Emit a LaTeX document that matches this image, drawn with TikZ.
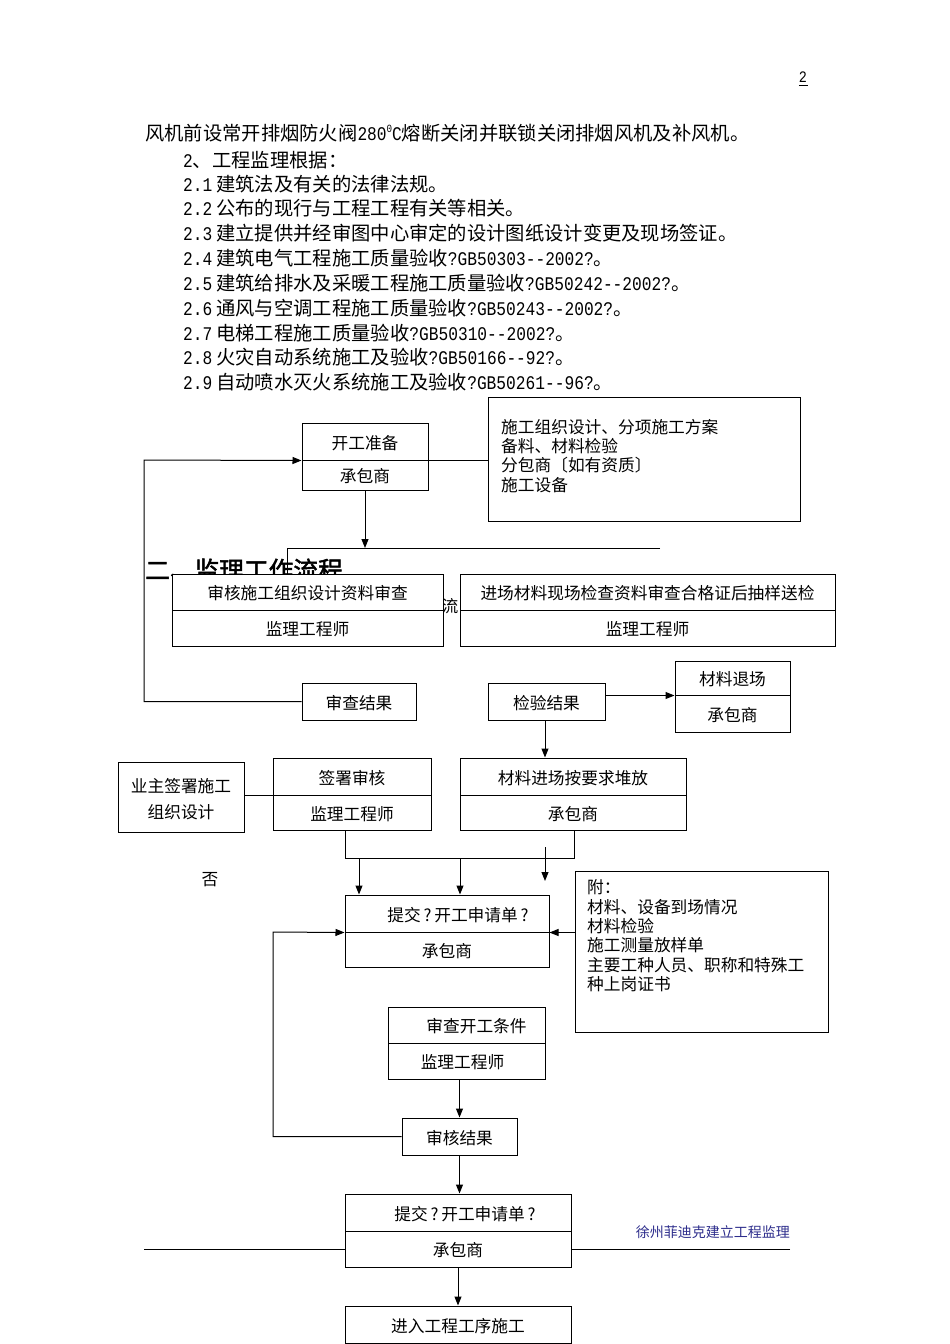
\documentclass[tikz,border=0pt]{standalone}
\usepackage{fontspec}
\newfontfamily\cjk{Noto Sans CJK SC}
\newfontfamily\cjkb{Noto Sans CJK SC}[FakeBold=2]
\newfontfamily\latm{Liberation Mono}[FakeStretch=0.84]
\newcommand\latseg[1]{{\latm\fontsize{19.3}{24}\selectfont #1}}
\usetikzlibrary{arrows.meta}
\tikzset{
  bx/.style={draw, line width=1pt, fill=white, inner sep=0pt, text height=15.5pt, text depth=0pt, font=\cjk\fontsize{16.7}{20}\selectfont},
  frame/.style={draw, line width=1pt, fill=white, inner sep=0pt},
  pos/.style n args={4}{minimum width={(#3-#1)*1pt}, minimum height={(#4-#2)*1pt}, at={({(#1+#3)/2},{(#2+#4)/2})}},
  tx/.style={inner sep=0pt, anchor=west, font=\cjk\fontsize{16.7}{20}\selectfont},
  body/.style={inner sep=0pt, anchor=west, font=\cjk\fontsize{19.3}{24}\selectfont},
  arr/.style={line width=1pt, -{Triangle[length=9pt,width=7pt]}},
  ln/.style={line width=1pt},
}
\begin{document}
\begin{tikzpicture}[x=1pt,y=-1pt]
\useasboundingbox[fill=white] (0,0) rectangle (950,1344);
% page number
\node[inner sep=0pt, font=\latm\fontsize{16}{18}\selectfont] (pg) at (803,77) {2};
\draw[line width=0.8pt] (pg.south west) ++(0,3) -- ++(9,0);
% body text
\node[body] (t0) at (145,133) {风机前设常开排烟防火阀\latseg{280}\raisebox{8pt}{\latm\fontsize{11}{11}\selectfont 0}\latseg{C}熔断关闭并联锁关闭排烟风机及补风机。};
\node[body] (t1) at (183,160) {\latseg{2}、工程监理根据：};
\node[body] (t2) at (183,184) {\latseg{2.1}\hspace{4pt}建筑法及有关的法律法规。};
\node[body] (t3) at (183,208.5) {\latseg{2.2}\hspace{4pt}公布的现行与工程工程有关等相关。};
\node[body] (t4) at (183,233) {\latseg{2.3}\hspace{4pt}建立提供并经审图中心审定的设计图纸设计变更及现场签证。};
\node[body] (t5) at (183,258) {\latseg{2.4}\hspace{4pt}建筑电气工程施工质量验收\latseg{?GB50303--2002?}。};
\node[body] (t6) at (183,283) {\latseg{2.5}\hspace{4pt}建筑给排水及采暖工程施工质量验收\latseg{?GB50242--2002?}。};
\node[body] (t7) at (183,308) {\latseg{2.6}\hspace{4pt}通风与空调工程施工质量验收\latseg{?GB50243--2002?}。};
\node[body] (t8) at (183,333) {\latseg{2.7}\hspace{4pt}电梯工程施工质量验收\latseg{?GB50310--2002?}。};
\node[body] (t9) at (183,357) {\latseg{2.8}\hspace{4pt}火灾自动系统施工及验收\latseg{?GB50166--92?}。};
\node[body] (t10) at (183,382) {\latseg{2.9}\hspace{4pt}自动喷水灭火系统施工及验收\latseg{?GB50261--96?}。};
% heading partly hidden
\node[inner sep=0pt, anchor=west, font=\cjkb\fontsize{24.7}{28}\selectfont] (hd) at (145,570) {二、监理工作流程};
\node[tx, anchor=center] (liu) at (450,606) {流};
% coordinates
\coordinate (hl) at (287,548);
\coordinate (hr) at (660,548);
\coordinate (lp) at (144,460);
\coordinate (lp2) at (273,932);
\coordinate (b1) at (345,858);
\coordinate (b2) at (574,858);
\coordinate (m1) at (359,858);
\coordinate (m2) at (460,858);
\coordinate (s1) at (545,847);
\coordinate (s2) at (545,881);
\coordinate (fl) at (144,1249);
\coordinate (fr) at (790,1249);
% lines drawn under boxes
\draw[ln] (hr) -- (hl) -- (287,574);
% boxes
\node[bx, pos={302}{423}{428}{460}] (kg1) {开工准备};
\node[bx, pos={302}{460}{428}{490}] (kg2) {承包商};
\node[frame, pos={488}{397}{800}{521}] (zl) {};
\node[tx] (zl1) at (501,427) {施工组织设计、分项施工方案};
\node[tx] (zl2) at (501,446) {备料、材料检验};
\node[tx] (zl3) at (501,465.5) {分包商〔如有资质〕};
\node[tx] (zl4) at (501,485) {施工设备};
\node[bx, pos={172}{574}{443}{610}] (sh1) {审核施工组织设计资料审查};
\node[bx, pos={172}{610}{443}{646}] (sh2) {监理工程师};
\node[bx, pos={460}{574}{835}{610}] (jc1) {进场材料现场检查资料审查合格证后抽样送检};
\node[bx, pos={460}{610}{835}{646}] (jc2) {监理工程师};
\node[bx, pos={302}{683}{416}{720}] (scjg) {审查结果};
\node[bx, pos={488}{683}{605}{720}] (jyjg) {检验结果};
\node[bx, pos={675}{661}{790}{695}] (tc1) {材料退场};
\node[bx, pos={675}{695}{790}{732}] (tc2) {承包商};
\node[frame, pos={118}{762}{244}{832}] (yz) {};
\node[tx, anchor=center] (yz1) at (181,786) {业主签署施工};
\node[tx, anchor=center] (yz2) at (181,812) {组织设计};
\node[bx, pos={273}{758}{431}{795}] (qs1) {签署审核};
\node[bx, pos={273}{795}{431}{830}] (qs2) {监理工程师};
\node[bx, pos={460}{758}{686}{795}] (cl1) {材料进场按要求堆放};
\node[bx, pos={460}{795}{686}{830}] (cl2) {承包商};
\node[tx, anchor=center] (fou) at (210,880) {否};
\node[bx, pos={345}{895}{549}{932}] (tj1) {\hspace*{22pt}提交\,?\,开工申请单\,?};
\node[bx, pos={345}{932}{549}{967}] (tj2) {承包商};
\node[frame, pos={575}{871}{828}{1032}] (fu) {};
\node[tx] (fu1) at (587,887) {附：};
\node[tx] (fu2) at (587,907) {材料、设备到场情况};
\node[tx] (fu3) at (587,926) {材料检验};
\node[tx] (fu4) at (587,945) {施工测量放样单};
\node[tx] (fu5) at (587,965) {主要工种人员、职称和特殊工};
\node[tx] (fu6) at (587,984) {种上岗证书};
\node[bx, pos={388}{1007}{545}{1043}] (ck1) {\hspace*{20pt}审查开工条件};
\node[bx, pos={388}{1043}{545}{1079}] (ck2) {\hspace*{-8pt}监理工程师};
\node[bx, pos={402}{1118}{517}{1155}] (shjg) {审核结果};
\node[bx, pos={345}{1194}{571}{1231}] (tk1) {\hspace*{14pt}提交\,?\,开工申请单\,?};
\node[bx, pos={345}{1231}{571}{1267}] (tk2) {承包商};
\node[bx, pos={345}{1306}{571}{1343}] (jr) {进入工程工序施工};
\node[inner sep=0pt, anchor=east, text={rgb,255:red,45;green,45;blue,140}, font=\cjk\fontsize{14}{16}\selectfont] (ft) at (790,1232) {徐州菲迪克建立工程监理};
% connectors
\draw[ln] (kg1.south east) -- (zl.west |- kg1.south east);
\draw[arr] (kg2.south) -- (kg2.south |- hl);
\draw[arr] (scjg.west) -| (lp) -- (kg1.south west);
\draw[arr] (jyjg.east |- tc1.south) -- (tc1.south west);
\draw[arr] (jyjg.south -| s1) -- (s1 |- cl1.north);
\draw[ln] (yz.east |- qs1.south west) -- (qs1.south west);
\draw[ln] (qs2.south -| b1) -- (b1) -- (b2) -- (cl2.south -| b2);
\draw[arr] (m1) -- (m1 |- tj1.north);
\draw[arr] (m2) -- (m2 |- tj1.north);
\draw[arr] (s1) -- (s2);
\draw[arr] (fu.west |- tj1.south) -- (tj1.south east);
\draw[arr] (shjg.west) -| (lp2) -- (tj1.south west);
\draw[arr] (shjg.north |- ck2.south) -- (shjg.north);
\draw[arr] (shjg.south) -- (shjg.south |- tk1.north);
\draw[arr] (tk2.south -| jr.north) -- (jr.north);
\draw[ln] (fl) -- (fl -| tk2.west);
\draw[ln] (fr) -- (fr -| tk2.east);
\end{tikzpicture}
\end{document}
